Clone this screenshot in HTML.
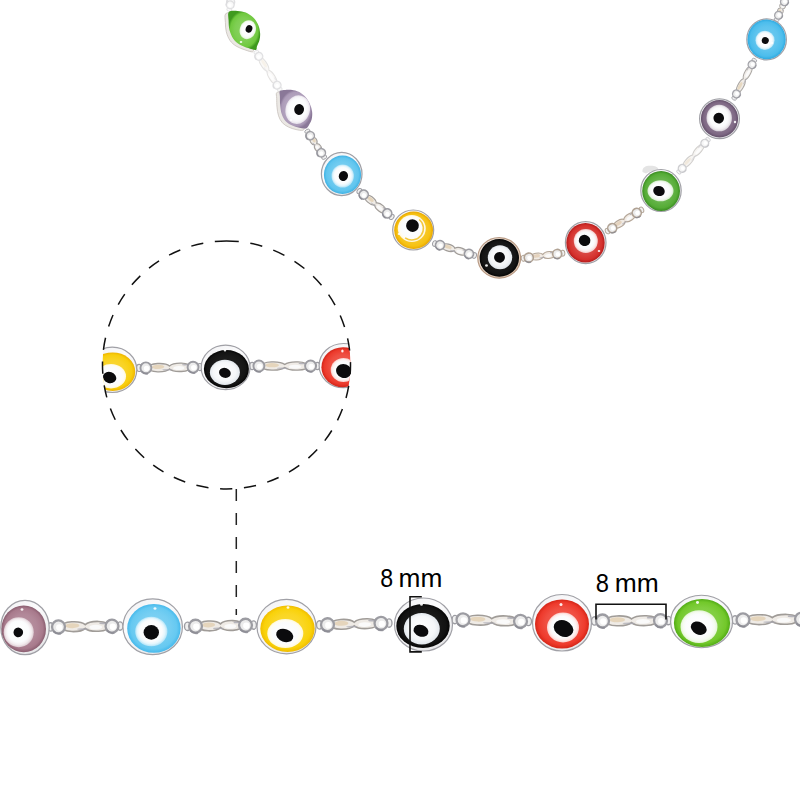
<!DOCTYPE html>
<html><head><meta charset="utf-8"><title>Evil eye chain</title>
<style>html,body{margin:0;padding:0;background:#fff;overflow:hidden;}svg{display:block;}</style>
</head><body><svg width="800" height="800" viewBox="0 0 800 800">
<defs>
<linearGradient id="gold" x1="0" y1="0" x2="1" y2="1"><stop offset="0" stop-color="#f4ece6"/><stop offset="1" stop-color="#d8bca4"/></linearGradient><linearGradient id="silver" x1="0" y1="0" x2="0.6" y2="1"><stop offset="0" stop-color="#f1f1f3"/><stop offset="0.45" stop-color="#fbfbfc"/><stop offset="1" stop-color="#e8e8ea"/></linearGradient>
<radialGradient id="iris" cx="50%" cy="50%" r="50%" fx="45%" fy="40%"><stop offset="0" stop-color="#ffffff"/><stop offset="0.75" stop-color="#f5f7f9"/><stop offset="1" stop-color="#e2e7ec"/></radialGradient>
<clipPath id="cc"><circle cx="226.5" cy="365" r="124"/></clipPath>
<radialGradient id="bg0" cx="50%" cy="50%" r="50%" fx="50%" fy="45%"><stop offset="0" stop-color="#8cd365"/><stop offset="0.6" stop-color="#7dce51"/><stop offset="0.86" stop-color="#6fc83e"/><stop offset="1" stop-color="#3f9a1e"/></radialGradient><radialGradient id="ig0" cx="50%" cy="50%" r="50%" fx="46%" fy="42%"><stop offset="0" stop-color="#ffffff"/><stop offset="0.7" stop-color="#fbfcfd"/><stop offset="0.86" stop-color="#f2faee"/><stop offset="1" stop-color="#dbf1cf"/></radialGradient><radialGradient id="bg1" cx="50%" cy="50%" r="50%" fx="50%" fy="45%"><stop offset="0" stop-color="#bdafc6"/><stop offset="0.6" stop-color="#b4a5bf"/><stop offset="0.86" stop-color="#ac9bb8"/><stop offset="1" stop-color="#8a7898"/></radialGradient><radialGradient id="ig1" cx="50%" cy="50%" r="50%" fx="46%" fy="42%"><stop offset="0" stop-color="#ffffff"/><stop offset="0.7" stop-color="#fbfcfd"/><stop offset="0.86" stop-color="#f6f4f8"/><stop offset="1" stop-color="#e6e1ea"/></radialGradient><radialGradient id="bg2" cx="50%" cy="50%" r="50%" fx="50%" fy="45%"><stop offset="0" stop-color="#80d1f1"/><stop offset="0.6" stop-color="#70cbf0"/><stop offset="0.86" stop-color="#60c5ee"/><stop offset="1" stop-color="#3fb2e4"/></radialGradient><radialGradient id="ig2" cx="50%" cy="50%" r="50%" fx="46%" fy="42%"><stop offset="0" stop-color="#ffffff"/><stop offset="0.7" stop-color="#fbfcfd"/><stop offset="0.86" stop-color="#e3f5fc"/><stop offset="1" stop-color="#b0e2f6"/></radialGradient><radialGradient id="bg3" cx="50%" cy="50%" r="50%" fx="50%" fy="45%"><stop offset="0" stop-color="#f8ce41"/><stop offset="0.6" stop-color="#f7c82a"/><stop offset="0.86" stop-color="#f6c212"/><stop offset="1" stop-color="#e8a600"/></radialGradient><radialGradient id="ig3" cx="50%" cy="50%" r="50%" fx="46%" fy="42%"><stop offset="0" stop-color="#ffffff"/><stop offset="0.7" stop-color="#fbfcfd"/><stop offset="0.86" stop-color="#fffcf3"/><stop offset="1" stop-color="#fef6db"/></radialGradient><radialGradient id="bg4" cx="50%" cy="50%" r="50%" fx="50%" fy="45%"><stop offset="0" stop-color="#202020"/><stop offset="0.6" stop-color="#1a1a1a"/><stop offset="0.86" stop-color="#141414"/><stop offset="1" stop-color="#050505"/></radialGradient><radialGradient id="bg5" cx="50%" cy="50%" r="50%" fx="50%" fy="45%"><stop offset="0" stop-color="#dd5956"/><stop offset="0.6" stop-color="#d94541"/><stop offset="0.86" stop-color="#d5302c"/><stop offset="1" stop-color="#b41c1c"/></radialGradient><radialGradient id="ig5" cx="50%" cy="50%" r="50%" fx="46%" fy="42%"><stop offset="0" stop-color="#ffffff"/><stop offset="0.7" stop-color="#fbfcfd"/><stop offset="0.86" stop-color="#fbeded"/><stop offset="1" stop-color="#f4cbca"/></radialGradient><radialGradient id="bg6" cx="50%" cy="50%" r="50%" fx="50%" fy="45%"><stop offset="0" stop-color="#77bd5e"/><stop offset="0.6" stop-color="#66b44a"/><stop offset="0.86" stop-color="#55ac36"/><stop offset="1" stop-color="#3a8c22"/></radialGradient><radialGradient id="ig6" cx="50%" cy="50%" r="50%" fx="46%" fy="42%"><stop offset="0" stop-color="#ffffff"/><stop offset="0.7" stop-color="#fbfcfd"/><stop offset="0.86" stop-color="#f0f8ed"/><stop offset="1" stop-color="#d4eacd"/></radialGradient><radialGradient id="bg7" cx="50%" cy="50%" r="50%" fx="50%" fy="45%"><stop offset="0" stop-color="#98869d"/><stop offset="0.6" stop-color="#8b7790"/><stop offset="0.86" stop-color="#7e6884"/><stop offset="1" stop-color="#63506a"/></radialGradient><radialGradient id="ig7" cx="50%" cy="50%" r="50%" fx="46%" fy="42%"><stop offset="0" stop-color="#ffffff"/><stop offset="0.7" stop-color="#fbfcfd"/><stop offset="0.86" stop-color="#f1eff2"/><stop offset="1" stop-color="#d8d2da"/></radialGradient><radialGradient id="bg8" cx="50%" cy="50%" r="50%" fx="50%" fy="45%"><stop offset="0" stop-color="#70caf0"/><stop offset="0.6" stop-color="#5ec4ee"/><stop offset="0.86" stop-color="#4cbdec"/><stop offset="1" stop-color="#2ea9e0"/></radialGradient><radialGradient id="ig8" cx="50%" cy="50%" r="50%" fx="46%" fy="42%"><stop offset="0" stop-color="#ffffff"/><stop offset="0.7" stop-color="#fbfcfd"/><stop offset="0.86" stop-color="#e3f5fc"/><stop offset="1" stop-color="#aee1f6"/></radialGradient><radialGradient id="bg9" cx="50%" cy="50%" r="50%" fx="50%" fy="45%"><stop offset="0" stop-color="#f9d83d"/><stop offset="0.6" stop-color="#f9d324"/><stop offset="0.86" stop-color="#f8ce0c"/><stop offset="1" stop-color="#eeb400"/></radialGradient><radialGradient id="ig9" cx="50%" cy="50%" r="50%" fx="46%" fy="42%"><stop offset="0" stop-color="#ffffff"/><stop offset="0.7" stop-color="#fbfcfd"/><stop offset="0.86" stop-color="#fffcf2"/><stop offset="1" stop-color="#fef8db"/></radialGradient><radialGradient id="bg10" cx="50%" cy="50%" r="50%" fx="50%" fy="45%"><stop offset="0" stop-color="#202020"/><stop offset="0.6" stop-color="#1a1a1a"/><stop offset="0.86" stop-color="#141414"/><stop offset="1" stop-color="#050505"/></radialGradient><radialGradient id="bg11" cx="50%" cy="50%" r="50%" fx="50%" fy="45%"><stop offset="0" stop-color="#f06156"/><stop offset="0.6" stop-color="#ee4e41"/><stop offset="0.86" stop-color="#ec3a2c"/><stop offset="1" stop-color="#d42418"/></radialGradient><radialGradient id="ig11" cx="50%" cy="50%" r="50%" fx="46%" fy="42%"><stop offset="0" stop-color="#ffffff"/><stop offset="0.7" stop-color="#fbfcfd"/><stop offset="0.86" stop-color="#fdeeed"/><stop offset="1" stop-color="#faceca"/></radialGradient><radialGradient id="bg12" cx="50%" cy="50%" r="50%" fx="50%" fy="45%"><stop offset="0" stop-color="#b995a3"/><stop offset="0.6" stop-color="#b18798"/><stop offset="0.86" stop-color="#a87a8c"/><stop offset="1" stop-color="#8a5e70"/></radialGradient><radialGradient id="ig12" cx="50%" cy="50%" r="50%" fx="46%" fy="42%"><stop offset="0" stop-color="#ffffff"/><stop offset="0.7" stop-color="#fbfcfd"/><stop offset="0.86" stop-color="#f3ecef"/><stop offset="1" stop-color="#dccad1"/></radialGradient><radialGradient id="bg13" cx="50%" cy="50%" r="50%" fx="50%" fy="45%"><stop offset="0" stop-color="#85d4f4"/><stop offset="0.6" stop-color="#75cef2"/><stop offset="0.86" stop-color="#66c9f1"/><stop offset="1" stop-color="#46b9ec"/></radialGradient><radialGradient id="ig13" cx="50%" cy="50%" r="50%" fx="46%" fy="42%"><stop offset="0" stop-color="#ffffff"/><stop offset="0.7" stop-color="#fbfcfd"/><stop offset="0.86" stop-color="#e4f6fd"/><stop offset="1" stop-color="#b2e4f8"/></radialGradient><radialGradient id="bg14" cx="50%" cy="50%" r="50%" fx="50%" fy="45%"><stop offset="0" stop-color="#fadb3b"/><stop offset="0.6" stop-color="#fad622"/><stop offset="0.86" stop-color="#f9d20a"/><stop offset="1" stop-color="#f0bc00"/></radialGradient><radialGradient id="ig14" cx="50%" cy="50%" r="50%" fx="46%" fy="42%"><stop offset="0" stop-color="#ffffff"/><stop offset="0.7" stop-color="#fbfcfd"/><stop offset="0.86" stop-color="#fffdf2"/><stop offset="1" stop-color="#fef8da"/></radialGradient><radialGradient id="bg15" cx="50%" cy="50%" r="50%" fx="50%" fy="45%"><stop offset="0" stop-color="#1e1e1e"/><stop offset="0.6" stop-color="#181818"/><stop offset="0.86" stop-color="#121212"/><stop offset="1" stop-color="#050505"/></radialGradient><radialGradient id="bg16" cx="50%" cy="50%" r="50%" fx="50%" fy="45%"><stop offset="0" stop-color="#f16156"/><stop offset="0.6" stop-color="#f04e41"/><stop offset="0.86" stop-color="#ee3a2c"/><stop offset="1" stop-color="#d62618"/></radialGradient><radialGradient id="ig16" cx="50%" cy="50%" r="50%" fx="46%" fy="42%"><stop offset="0" stop-color="#ffffff"/><stop offset="0.7" stop-color="#fbfcfd"/><stop offset="0.86" stop-color="#feeeed"/><stop offset="1" stop-color="#fbceca"/></radialGradient><radialGradient id="bg17" cx="50%" cy="50%" r="50%" fx="50%" fy="45%"><stop offset="0" stop-color="#8ed355"/><stop offset="0.6" stop-color="#80ce3f"/><stop offset="0.86" stop-color="#72c82a"/><stop offset="1" stop-color="#52ac16"/></radialGradient><radialGradient id="ig17" cx="50%" cy="50%" r="50%" fx="46%" fy="42%"><stop offset="0" stop-color="#ffffff"/><stop offset="0.7" stop-color="#fbfcfd"/><stop offset="0.86" stop-color="#f5fbf0"/><stop offset="1" stop-color="#e3f4d4"/></radialGradient>
</defs>
<rect width="800" height="800" fill="#fff"/>
<g><g transform="translate(232.00,-4.00) rotate(101.31)" opacity="0.3"><ellipse cx="1.50" cy="0" rx="1.80" ry="2.52" fill="#f0f0f0" stroke="#9c9ca2" stroke-width="0.83"/><ellipse cx="13.80" cy="0" rx="1.80" ry="2.52" fill="#f0f0f0" stroke="#9c9ca2" stroke-width="0.83"/><circle cx="6.30" cy="0" r="3.87" fill="#ececec" stroke="#9c9ca2" stroke-width="1.38"/><circle cx="6.78" cy="0.36" r="1.92" fill="#ffffff"/><path d="M3.11,2.51 A4.56,4.56 0 0 0 7.67,4.10" fill="none" stroke="#8a8a92" stroke-width="1.10" opacity="0.8"/><circle cx="9.00" cy="0" r="3.87" fill="#ececec" stroke="#9c9ca2" stroke-width="1.38"/><circle cx="9.48" cy="0.36" r="1.92" fill="#ffffff"/><path d="M5.81,2.51 A4.56,4.56 0 0 0 10.37,4.10" fill="none" stroke="#8a8a92" stroke-width="1.10" opacity="0.8"/></g><g transform="translate(255.50,51.00) rotate(57.67)" opacity="0.3"><ellipse cx="1.50" cy="0" rx="1.80" ry="2.52" fill="#f0f0f0" stroke="#9c9ca2" stroke-width="0.83"/><ellipse cx="45.25" cy="0" rx="1.80" ry="2.52" fill="#f0f0f0" stroke="#9c9ca2" stroke-width="0.83"/><path d="M8.35,0 C8.35,-3.72 20.37,-3.72 23.37,-1.08 C26.38,-3.72 38.39,-3.72 38.39,0 C38.39,3.72 26.38,3.72 23.37,1.08 C20.37,3.72 8.35,3.72 8.35,0 Z" fill="#efebe6" stroke="#a09c98" stroke-width="0.97"/><ellipse cx="15.11" cy="-0.60" rx="4.51" ry="1.49" fill="#e2d0b2" opacity="0.8"/><ellipse cx="30.13" cy="0.48" rx="4.13" ry="1.41" fill="#fafafa"/><ellipse cx="21.87" cy="1.56" rx="3.76" ry="0.52" fill="#a8a8b2" opacity="0.7"/><ellipse cx="34.64" cy="-1.80" rx="2.25" ry="0.56" fill="#9c9ca8" opacity="0.7"/><circle cx="6.30" cy="0" r="3.87" fill="#ececec" stroke="#9c9ca2" stroke-width="1.38"/><circle cx="6.78" cy="0.36" r="1.92" fill="#ffffff"/><path d="M3.11,2.51 A4.56,4.56 0 0 0 7.67,4.10" fill="none" stroke="#8a8a92" stroke-width="1.10" opacity="0.8"/><circle cx="40.45" cy="0" r="3.87" fill="#ececec" stroke="#9c9ca2" stroke-width="1.38"/><circle cx="40.93" cy="0.36" r="1.92" fill="#ffffff"/><path d="M37.25,2.51 A4.56,4.56 0 0 0 41.81,4.10" fill="none" stroke="#8a8a92" stroke-width="1.10" opacity="0.8"/></g><g transform="translate(306.50,130.00) rotate(57.01)" opacity="0.95"><ellipse cx="1.62" cy="0" rx="1.95" ry="2.73" fill="#f0f0f0" stroke="#9c9ca2" stroke-width="0.90"/><ellipse cx="32.35" cy="0" rx="1.95" ry="2.73" fill="#f0f0f0" stroke="#9c9ca2" stroke-width="0.90"/><path d="M9.05,0 C9.05,-4.03 15.40,-4.03 16.99,-1.17 C18.58,-4.03 24.93,-4.03 24.93,0 C24.93,4.03 18.58,4.03 16.99,1.17 C15.40,4.03 9.05,4.03 9.05,0 Z" fill="#efebe6" stroke="#a09c98" stroke-width="1.05"/><ellipse cx="12.62" cy="-0.65" rx="2.38" ry="1.61" fill="#e2d0b2" opacity="0.8"/><ellipse cx="20.56" cy="0.52" rx="2.18" ry="1.53" fill="#fafafa"/><ellipse cx="16.19" cy="1.69" rx="1.99" ry="0.56" fill="#a8a8b2" opacity="0.7"/><ellipse cx="22.94" cy="-1.95" rx="1.19" ry="0.60" fill="#9c9ca8" opacity="0.7"/><circle cx="6.83" cy="0" r="4.19" fill="#ececec" stroke="#9c9ca2" stroke-width="1.49"/><circle cx="7.35" cy="0.39" r="2.07" fill="#ffffff"/><path d="M3.37,2.72 A4.94,4.94 0 0 0 8.31,4.45" fill="none" stroke="#8a8a92" stroke-width="1.20" opacity="0.8"/><circle cx="27.15" cy="0" r="4.19" fill="#ececec" stroke="#9c9ca2" stroke-width="1.49"/><circle cx="27.67" cy="0.39" r="2.07" fill="#ffffff"/><path d="M23.69,2.72 A4.94,4.94 0 0 0 28.63,4.45" fill="none" stroke="#8a8a92" stroke-width="1.20" opacity="0.8"/></g><g transform="translate(358.00,190.00) rotate(38.66)" opacity="1"><ellipse cx="1.75" cy="0" rx="2.10" ry="2.94" fill="#f0f0f0" stroke="#9c9ca2" stroke-width="0.97"/><ellipse cx="43.07" cy="0" rx="2.10" ry="2.94" fill="#f0f0f0" stroke="#9c9ca2" stroke-width="0.97"/><path d="M9.74,0 C9.74,-4.34 19.88,-4.34 22.41,-1.26 C24.94,-4.34 35.08,-4.34 35.08,0 C35.08,4.34 24.94,4.34 22.41,1.26 C19.88,4.34 9.74,4.34 9.74,0 Z" fill="#efebe6" stroke="#a09c98" stroke-width="1.13"/><ellipse cx="15.44" cy="-0.70" rx="3.80" ry="1.74" fill="#e2d0b2" opacity="0.8"/><ellipse cx="28.11" cy="0.56" rx="3.48" ry="1.65" fill="#fafafa"/><ellipse cx="21.14" cy="1.82" rx="3.17" ry="0.61" fill="#a8a8b2" opacity="0.7"/><ellipse cx="31.91" cy="-2.10" rx="1.90" ry="0.65" fill="#9c9ca8" opacity="0.7"/><circle cx="7.35" cy="0" r="4.51" fill="#ececec" stroke="#9c9ca2" stroke-width="1.61"/><circle cx="7.91" cy="0.42" r="2.23" fill="#ffffff"/><path d="M3.63,2.93 A5.32,5.32 0 0 0 8.95,4.79" fill="none" stroke="#8a8a92" stroke-width="1.29" opacity="0.8"/><circle cx="37.47" cy="0" r="4.51" fill="#ececec" stroke="#9c9ca2" stroke-width="1.61"/><circle cx="38.03" cy="0.42" r="2.23" fill="#ffffff"/><path d="M33.75,2.93 A5.32,5.32 0 0 0 39.07,4.79" fill="none" stroke="#8a8a92" stroke-width="1.29" opacity="0.8"/></g><g transform="translate(433.00,243.00) rotate(16.82)" opacity="1"><ellipse cx="1.75" cy="0" rx="2.10" ry="2.94" fill="#f0f0f0" stroke="#9c9ca2" stroke-width="0.97"/><ellipse cx="43.17" cy="0" rx="2.10" ry="2.94" fill="#f0f0f0" stroke="#9c9ca2" stroke-width="0.97"/><path d="M9.74,0 C9.74,-4.34 19.92,-4.34 22.46,-1.26 C25.00,-4.34 35.18,-4.34 35.18,0 C35.18,4.34 25.00,4.34 22.46,1.26 C19.92,4.34 9.74,4.34 9.74,0 Z" fill="#efebe6" stroke="#a09c98" stroke-width="1.13"/><ellipse cx="15.47" cy="-0.70" rx="3.82" ry="1.74" fill="#e2d0b2" opacity="0.8"/><ellipse cx="28.18" cy="0.56" rx="3.50" ry="1.65" fill="#fafafa"/><ellipse cx="21.19" cy="1.82" rx="3.18" ry="0.61" fill="#a8a8b2" opacity="0.7"/><ellipse cx="32.00" cy="-2.10" rx="1.91" ry="0.65" fill="#9c9ca8" opacity="0.7"/><circle cx="7.35" cy="0" r="4.51" fill="#ececec" stroke="#9c9ca2" stroke-width="1.61"/><circle cx="7.91" cy="0.42" r="2.23" fill="#ffffff"/><path d="M3.63,2.93 A5.32,5.32 0 0 0 8.95,4.79" fill="none" stroke="#8a8a92" stroke-width="1.29" opacity="0.8"/><circle cx="37.57" cy="0" r="4.51" fill="#ececec" stroke="#9c9ca2" stroke-width="1.61"/><circle cx="38.13" cy="0.42" r="2.23" fill="#ffffff"/><path d="M33.85,2.93 A5.32,5.32 0 0 0 39.17,4.79" fill="none" stroke="#8a8a92" stroke-width="1.29" opacity="0.8"/></g><g transform="translate(521.50,258.50) rotate(-7.29)" opacity="1"><ellipse cx="1.75" cy="0" rx="2.10" ry="2.94" fill="#f0f0f0" stroke="#b0a294" stroke-width="0.97"/><ellipse cx="41.60" cy="0" rx="2.10" ry="2.94" fill="#f0f0f0" stroke="#b0a294" stroke-width="0.97"/><path d="M9.74,0 C9.74,-4.34 19.29,-4.34 21.68,-1.26 C24.06,-4.34 33.61,-4.34 33.61,0 C33.61,4.34 24.06,4.34 21.68,1.26 C19.29,4.34 9.74,4.34 9.74,0 Z" fill="#f1ebe4" stroke="#b4a698" stroke-width="1.13"/><ellipse cx="15.11" cy="-0.70" rx="3.58" ry="1.74" fill="#e2cdb4" opacity="0.8"/><ellipse cx="27.04" cy="0.56" rx="3.28" ry="1.65" fill="#fafafa"/><ellipse cx="20.48" cy="1.82" rx="2.98" ry="0.61" fill="#a8a8b2" opacity="0.7"/><ellipse cx="30.62" cy="-2.10" rx="1.79" ry="0.65" fill="#9c9ca8" opacity="0.7"/><circle cx="7.35" cy="0" r="4.51" fill="#ececec" stroke="#b0a294" stroke-width="1.61"/><circle cx="7.91" cy="0.42" r="2.23" fill="#ffffff"/><path d="M3.63,2.93 A5.32,5.32 0 0 0 8.95,4.79" fill="none" stroke="#8a8a92" stroke-width="1.29" opacity="0.8"/><circle cx="36.00" cy="0" r="4.51" fill="#ececec" stroke="#b0a294" stroke-width="1.61"/><circle cx="36.56" cy="0.42" r="2.23" fill="#ffffff"/><path d="M32.28,2.93 A5.32,5.32 0 0 0 37.60,4.79" fill="none" stroke="#8a8a92" stroke-width="1.29" opacity="0.8"/></g><g transform="translate(606.00,232.00) rotate(-31.87)" opacity="1"><ellipse cx="1.75" cy="0" rx="2.10" ry="2.94" fill="#f0f0f0" stroke="#b0a294" stroke-width="0.97"/><ellipse cx="41.82" cy="0" rx="2.10" ry="2.94" fill="#f0f0f0" stroke="#b0a294" stroke-width="0.97"/><path d="M9.74,0 C9.74,-4.34 19.38,-4.34 21.78,-1.26 C24.19,-4.34 33.82,-4.34 33.82,0 C33.82,4.34 24.19,4.34 21.78,1.26 C19.38,4.34 9.74,4.34 9.74,0 Z" fill="#f1ebe4" stroke="#b4a698" stroke-width="1.13"/><ellipse cx="15.16" cy="-0.70" rx="3.61" ry="1.74" fill="#e2cdb4" opacity="0.8"/><ellipse cx="27.20" cy="0.56" rx="3.31" ry="1.65" fill="#fafafa"/><ellipse cx="20.58" cy="1.82" rx="3.01" ry="0.61" fill="#a8a8b2" opacity="0.7"/><ellipse cx="30.81" cy="-2.10" rx="1.81" ry="0.65" fill="#9c9ca8" opacity="0.7"/><circle cx="7.35" cy="0" r="4.51" fill="#ececec" stroke="#b0a294" stroke-width="1.61"/><circle cx="7.91" cy="0.42" r="2.23" fill="#ffffff"/><path d="M3.63,2.93 A5.32,5.32 0 0 0 8.95,4.79" fill="none" stroke="#8a8a92" stroke-width="1.29" opacity="0.8"/><circle cx="36.22" cy="0" r="4.51" fill="#ececec" stroke="#b0a294" stroke-width="1.61"/><circle cx="36.78" cy="0.42" r="2.23" fill="#ffffff"/><path d="M32.49,2.93 A5.32,5.32 0 0 0 37.81,4.79" fill="none" stroke="#8a8a92" stroke-width="1.29" opacity="0.8"/></g><g transform="translate(678.00,173.00) rotate(-48.06)" opacity="0.5"><ellipse cx="1.50" cy="0" rx="1.80" ry="2.52" fill="#f0f0f0" stroke="#9c9ca2" stroke-width="0.83"/><ellipse cx="44.88" cy="0" rx="1.80" ry="2.52" fill="#f0f0f0" stroke="#9c9ca2" stroke-width="0.83"/><path d="M8.35,0 C8.35,-3.72 20.22,-3.72 23.19,-1.08 C26.16,-3.72 38.03,-3.72 38.03,0 C38.03,3.72 26.16,3.72 23.19,1.08 C20.22,3.72 8.35,3.72 8.35,0 Z" fill="#efebe6" stroke="#a09c98" stroke-width="0.97"/><ellipse cx="15.03" cy="-0.60" rx="4.45" ry="1.49" fill="#e2d0b2" opacity="0.8"/><ellipse cx="29.87" cy="0.48" rx="4.08" ry="1.41" fill="#fafafa"/><ellipse cx="21.71" cy="1.56" rx="3.71" ry="0.52" fill="#a8a8b2" opacity="0.7"/><ellipse cx="34.32" cy="-1.80" rx="2.23" ry="0.56" fill="#9c9ca8" opacity="0.7"/><circle cx="6.30" cy="0" r="3.87" fill="#ececec" stroke="#9c9ca2" stroke-width="1.38"/><circle cx="6.78" cy="0.36" r="1.92" fill="#ffffff"/><path d="M3.11,2.51 A4.56,4.56 0 0 0 7.67,4.10" fill="none" stroke="#8a8a92" stroke-width="1.10" opacity="0.8"/><circle cx="40.08" cy="0" r="3.87" fill="#ececec" stroke="#9c9ca2" stroke-width="1.38"/><circle cx="40.56" cy="0.36" r="1.92" fill="#ffffff"/><path d="M36.89,2.51 A4.56,4.56 0 0 0 41.45,4.10" fill="none" stroke="#8a8a92" stroke-width="1.10" opacity="0.8"/></g><g transform="translate(733.50,99.50) rotate(-62.04)" opacity="0.9"><ellipse cx="1.50" cy="0" rx="1.80" ry="2.52" fill="#f0f0f0" stroke="#9c9ca2" stroke-width="0.83"/><ellipse cx="44.35" cy="0" rx="1.80" ry="2.52" fill="#f0f0f0" stroke="#9c9ca2" stroke-width="0.83"/><path d="M8.35,0 C8.35,-3.72 20.01,-3.72 22.93,-1.08 C25.84,-3.72 37.50,-3.72 37.50,0 C37.50,3.72 25.84,3.72 22.93,1.08 C20.01,3.72 8.35,3.72 8.35,0 Z" fill="#efebe6" stroke="#a09c98" stroke-width="0.97"/><ellipse cx="14.91" cy="-0.60" rx="4.37" ry="1.49" fill="#e2d0b2" opacity="0.8"/><ellipse cx="29.49" cy="0.48" rx="4.01" ry="1.41" fill="#fafafa"/><ellipse cx="21.47" cy="1.56" rx="3.64" ry="0.52" fill="#a8a8b2" opacity="0.7"/><ellipse cx="33.86" cy="-1.80" rx="2.19" ry="0.56" fill="#9c9ca8" opacity="0.7"/><circle cx="6.30" cy="0" r="3.87" fill="#ececec" stroke="#9c9ca2" stroke-width="1.38"/><circle cx="6.78" cy="0.36" r="1.92" fill="#ffffff"/><path d="M3.11,2.51 A4.56,4.56 0 0 0 7.67,4.10" fill="none" stroke="#8a8a92" stroke-width="1.10" opacity="0.8"/><circle cx="39.55" cy="0" r="3.87" fill="#ececec" stroke="#9c9ca2" stroke-width="1.38"/><circle cx="40.03" cy="0.36" r="1.92" fill="#ffffff"/><path d="M36.36,2.51 A4.56,4.56 0 0 0 40.92,4.10" fill="none" stroke="#8a8a92" stroke-width="1.10" opacity="0.8"/></g><g transform="translate(776.00,21.00) rotate(-66.25)" opacity="0.9"><ellipse cx="1.50" cy="0" rx="1.80" ry="2.52" fill="#f0f0f0" stroke="#9c9ca2" stroke-width="0.83"/><ellipse cx="25.81" cy="0" rx="1.80" ry="2.52" fill="#f0f0f0" stroke="#9c9ca2" stroke-width="0.83"/><path d="M8.35,0 C8.35,-3.72 12.60,-3.72 13.66,-1.08 C14.72,-3.72 18.96,-3.72 18.96,0 C18.96,3.72 14.72,3.72 13.66,1.08 C12.60,3.72 8.35,3.72 8.35,0 Z" fill="#efebe6" stroke="#a09c98" stroke-width="0.97"/><ellipse cx="10.74" cy="-0.60" rx="1.59" ry="1.49" fill="#e2d0b2" opacity="0.8"/><ellipse cx="16.04" cy="0.48" rx="1.46" ry="1.41" fill="#fafafa"/><ellipse cx="13.13" cy="1.56" rx="1.33" ry="0.52" fill="#a8a8b2" opacity="0.7"/><ellipse cx="17.63" cy="-1.80" rx="0.80" ry="0.56" fill="#9c9ca8" opacity="0.7"/><circle cx="6.30" cy="0" r="3.87" fill="#ececec" stroke="#9c9ca2" stroke-width="1.38"/><circle cx="6.78" cy="0.36" r="1.92" fill="#ffffff"/><path d="M3.11,2.51 A4.56,4.56 0 0 0 7.67,4.10" fill="none" stroke="#8a8a92" stroke-width="1.10" opacity="0.8"/><circle cx="21.01" cy="0" r="3.87" fill="#ececec" stroke="#9c9ca2" stroke-width="1.38"/><circle cx="21.49" cy="0.36" r="1.92" fill="#ffffff"/><path d="M17.82,2.51 A4.56,4.56 0 0 0 22.38,4.10" fill="none" stroke="#8a8a92" stroke-width="1.10" opacity="0.8"/></g><path d="M642.5,172 C642,167 646,165.5 651,165.8 C655,166 658,167 658.5,169.5 C655,170 650,171 646,173.5 Z" fill="#e4e4e4"/><path d="M225.70,13.70 C227.20,12.08 231.59,12.60 234.40,12.70 C237.21,12.80 239.94,13.20 242.55,14.30 C245.16,15.40 247.97,17.22 250.05,19.30 C252.13,21.38 253.91,24.20 255.05,26.80 C256.19,29.40 256.69,32.40 256.90,34.90 C257.11,37.40 256.82,39.61 256.30,41.80 C255.78,43.99 254.43,46.38 253.80,48.05 C253.18,49.72 254.01,51.49 252.55,51.80 C251.09,52.11 247.76,50.83 245.05,49.90 C242.34,48.97 238.80,47.76 236.30,46.20 C233.80,44.64 231.72,42.95 230.05,40.55 C228.38,38.15 227.08,34.83 226.30,31.80 C225.53,28.78 225.50,25.42 225.40,22.40 C225.30,19.38 224.20,15.32 225.70,13.70 Z" fill="#ebe8e4" stroke="#c8c2bc" stroke-width="0.8"/><path d="M228.90,11.90 C230.40,10.28 234.79,10.80 237.60,10.90 C240.41,11.00 243.14,11.40 245.75,12.50 C248.36,13.60 251.17,15.42 253.25,17.50 C255.33,19.58 257.11,22.40 258.25,25.00 C259.39,27.60 259.89,30.60 260.10,33.10 C260.31,35.60 260.02,37.81 259.50,40.00 C258.98,42.19 257.62,44.58 257.00,46.25 C256.38,47.92 257.21,49.69 255.75,50.00 C254.29,50.31 250.96,49.03 248.25,48.10 C245.54,47.17 242.00,45.96 239.50,44.40 C237.00,42.84 234.92,41.15 233.25,38.75 C231.58,36.35 230.28,33.02 229.50,30.00 C228.72,26.98 228.70,23.62 228.60,20.60 C228.50,17.58 227.40,13.52 228.90,11.90 Z" fill="url(#bg0)"/><ellipse cx="247.8" cy="29.7" rx="8" ry="9.7" fill="url(#ig0)" transform="rotate(20 247.8 29.7)"/><ellipse cx="249" cy="28.9" rx="3.3" ry="3.9" fill="#0b0b0d" transform="rotate(20 249 28.9)"/><ellipse cx="241" cy="42" rx="1.3" ry="1.1" fill="#fff" opacity="0.9"/><path d="M276.70,92.70 C277.63,91.60 280.02,91.81 282.30,91.70 C284.58,91.59 288.11,91.68 290.40,92.05 C292.69,92.42 294.07,92.76 296.05,93.90 C298.03,95.04 300.53,96.92 302.30,98.90 C304.07,100.88 305.60,103.40 306.70,105.80 C307.80,108.20 308.59,110.80 308.90,113.30 C309.21,115.80 309.03,118.62 308.55,120.80 C308.07,122.98 306.99,124.83 306.05,126.40 C305.11,127.97 304.57,129.68 302.90,130.20 C301.23,130.73 298.44,130.08 296.05,129.55 C293.66,129.03 290.84,128.19 288.55,127.05 C286.26,125.91 283.97,124.58 282.30,122.70 C280.63,120.83 279.43,118.41 278.55,115.80 C277.67,113.19 277.31,109.97 277.00,107.05 C276.69,104.13 276.75,100.69 276.70,98.30 C276.65,95.91 275.77,93.80 276.70,92.70 Z" fill="#ebe8e4" stroke="#c8c2bc" stroke-width="0.8"/><path d="M279.90,90.90 C280.83,89.80 283.22,90.01 285.50,89.90 C287.78,89.79 291.31,89.88 293.60,90.25 C295.89,90.62 297.27,90.96 299.25,92.10 C301.23,93.24 303.73,95.12 305.50,97.10 C307.27,99.08 308.80,101.60 309.90,104.00 C311.00,106.40 311.79,109.00 312.10,111.50 C312.41,114.00 312.23,116.82 311.75,119.00 C311.27,121.18 310.19,123.03 309.25,124.60 C308.31,126.17 307.77,127.88 306.10,128.40 C304.43,128.93 301.64,128.28 299.25,127.75 C296.86,127.22 294.04,126.39 291.75,125.25 C289.46,124.11 287.17,122.78 285.50,120.90 C283.83,119.03 282.63,116.61 281.75,114.00 C280.87,111.39 280.51,108.17 280.20,105.25 C279.89,102.33 279.95,98.89 279.90,96.50 C279.85,94.11 278.97,92.00 279.90,90.90 Z" fill="url(#bg1)"/><ellipse cx="297.7" cy="109.6" rx="12.2" ry="14.4" fill="url(#ig1)" transform="rotate(15 297.7 109.6)"/><ellipse cx="299.1" cy="109.5" rx="4.9" ry="5.5" fill="#0b0b0d" transform="rotate(15 299.1 109.5)"/><ellipse cx="291" cy="120" rx="1.2" ry="0.9" fill="#fff" opacity="0.9"/><ellipse cx="341.7" cy="174" rx="20.3" ry="21.6" fill="url(#silver)" stroke="#a0a0a6" stroke-width="1.2"/><ellipse cx="342.5" cy="174.8" rx="18.6" ry="19.2" fill="url(#bg2)"/><ellipse cx="342.7" cy="176" rx="11.2" ry="11.5" fill="url(#ig2)"/><ellipse cx="343.4" cy="176" rx="4.6" ry="5" fill="#0b0b0d" transform="rotate(20 343.4 176)"/><ellipse cx="413.2" cy="230" rx="20.5" ry="20" fill="url(#silver)" stroke="#a0a0a6" stroke-width="1.2"/><ellipse cx="413.6" cy="230.3" rx="19.4" ry="18.75" fill="url(#bg3)"/><ellipse cx="411.8" cy="228.5" rx="14" ry="13.5" fill="url(#ig3)"/><ellipse cx="412.5" cy="225.6" rx="6.4" ry="6.3" fill="#0b0b0d" transform="rotate(20 412.5 225.6)"/><ellipse cx="399" cy="234" rx="1.3" ry="1.1" fill="#fff" opacity="0.9"/><ellipse cx="499.2" cy="257.9" rx="21.4" ry="20.2" fill="url(#gold)" stroke="#b89a84" stroke-width="1.2"/><ellipse cx="499.3" cy="257.9" rx="19.7" ry="18.9" fill="url(#bg4)"/><ellipse cx="500" cy="257.2" rx="12.2" ry="12" fill="url(#iris)"/><ellipse cx="499.5" cy="257.3" rx="5.4" ry="5.4" fill="#0b0b0d" transform="rotate(20 499.5 257.3)"/><ellipse cx="486.5" cy="265.5" rx="1.4" ry="1.2" fill="#fff" opacity="0.9"/><ellipse cx="585.7" cy="242.6" rx="20.3" ry="21" fill="url(#silver)" stroke="#a0a0a6" stroke-width="1.2"/><ellipse cx="585.5" cy="242.8" rx="19.2" ry="19.8" fill="url(#bg5)"/><ellipse cx="585.8" cy="241" rx="12" ry="11.9" fill="url(#ig5)"/><ellipse cx="584.6" cy="240.4" rx="5.8" ry="5.6" fill="#0b0b0d" transform="rotate(20 584.6 240.4)"/><ellipse cx="599" cy="251" rx="1.3" ry="1.1" fill="#fff" opacity="0.9"/><ellipse cx="661" cy="190.5" rx="20.2" ry="21" fill="url(#silver)" stroke="#a0a0a6" stroke-width="1.2"/><ellipse cx="661.1" cy="191" rx="18.9" ry="19.9" fill="url(#bg6)"/><ellipse cx="660.5" cy="190.8" rx="13" ry="10.5" fill="url(#ig6)"/><ellipse cx="659" cy="191" rx="5.85" ry="5" fill="#0b0b0d" transform="rotate(20 659 191)"/><ellipse cx="719.5" cy="118.75" rx="19.9" ry="19.9" fill="url(#silver)" stroke="#a0a0a6" stroke-width="1.2"/><ellipse cx="719.5" cy="118.75" rx="18.6" ry="18.75" fill="url(#bg7)"/><ellipse cx="719.2" cy="118" rx="12.7" ry="13.3" fill="url(#ig7)"/><ellipse cx="718.7" cy="118.1" rx="5.3" ry="5.3" fill="#0b0b0d" transform="rotate(20 718.7 118.1)"/><ellipse cx="735" cy="122" rx="1.2" ry="1.2" fill="#fff" opacity="0.9"/><ellipse cx="766.6" cy="39.4" rx="19.8" ry="20.5" fill="url(#silver)" stroke="#a0a0a6" stroke-width="1.2"/><ellipse cx="766.6" cy="39.4" rx="19.1" ry="19.9" fill="url(#bg8)"/><ellipse cx="765" cy="40.3" rx="9.6" ry="9.6" fill="url(#ig8)"/><ellipse cx="765.3" cy="40.5" rx="3.5" ry="3.5" fill="#0b0b0d" transform="rotate(20 765.3 40.5)"/><ellipse cx="772" cy="43" rx="1.2" ry="1" fill="#fff" opacity="0.9"/><path d="M419.25,219.50 A11.6,11.6 0 0 1 405.14,237.89" fill="none" stroke="#f0bc10" stroke-width="1.5" opacity="0.8"/></g>
<g clip-path="url(#cc)"><g transform="translate(60.00,368.00) rotate(0.00)" opacity="1"><ellipse cx="2.12" cy="0" rx="2.55" ry="3.57" fill="#f0f0f0" stroke="#9c9ca2" stroke-width="1.17"/><ellipse cx="29.88" cy="0" rx="2.55" ry="3.57" fill="#f0f0f0" stroke="#9c9ca2" stroke-width="1.17"/><path d="M11.83,0 C11.83,-5.27 15.17,-5.27 16.00,-1.53 C16.83,-5.27 20.17,-5.27 20.17,0 C20.17,5.27 16.83,5.27 16.00,1.53 C15.17,5.27 11.83,5.27 11.83,0 Z" fill="#efebe6" stroke="#a09c98" stroke-width="1.37"/><ellipse cx="13.71" cy="-0.85" rx="1.25" ry="2.11" fill="#e2d0b2" opacity="0.8"/><ellipse cx="17.88" cy="0.68" rx="1.15" ry="2.00" fill="#fafafa"/><ellipse cx="15.58" cy="2.21" rx="1.04" ry="0.74" fill="#a8a8b2" opacity="0.7"/><ellipse cx="19.13" cy="-2.55" rx="0.63" ry="0.79" fill="#9c9ca8" opacity="0.7"/><circle cx="8.92" cy="0" r="5.48" fill="#ececec" stroke="#9c9ca2" stroke-width="1.95"/><circle cx="9.60" cy="0.51" r="2.71" fill="#ffffff"/><path d="M4.40,3.55 A6.46,6.46 0 0 0 10.86,5.81" fill="none" stroke="#8a8a92" stroke-width="1.56" opacity="0.8"/><circle cx="23.08" cy="0" r="5.48" fill="#ececec" stroke="#9c9ca2" stroke-width="1.95"/><circle cx="23.76" cy="0.51" r="2.71" fill="#ffffff"/><path d="M18.55,3.55 A6.46,6.46 0 0 0 25.01,5.81" fill="none" stroke="#8a8a92" stroke-width="1.56" opacity="0.8"/></g><g transform="translate(137.00,368.00) rotate(-0.88)" opacity="1"><ellipse cx="2.12" cy="0" rx="2.55" ry="3.57" fill="#f0f0f0" stroke="#9c9ca2" stroke-width="1.17"/><ellipse cx="62.88" cy="0" rx="2.55" ry="3.57" fill="#f0f0f0" stroke="#9c9ca2" stroke-width="1.17"/><path d="M11.83,0 C11.83,-5.27 28.37,-5.27 32.50,-1.53 C36.64,-5.27 53.18,-5.27 53.18,0 C53.18,5.27 36.64,5.27 32.50,1.53 C28.37,5.27 11.83,5.27 11.83,0 Z" fill="#efebe6" stroke="#a09c98" stroke-width="1.37"/><ellipse cx="21.13" cy="-0.85" rx="6.20" ry="2.11" fill="#e2d0b2" opacity="0.8"/><ellipse cx="41.81" cy="0.68" rx="5.68" ry="2.00" fill="#fafafa"/><ellipse cx="30.44" cy="2.21" rx="5.17" ry="0.74" fill="#a8a8b2" opacity="0.7"/><ellipse cx="48.01" cy="-2.55" rx="3.10" ry="0.79" fill="#9c9ca8" opacity="0.7"/><circle cx="8.92" cy="0" r="5.48" fill="#ececec" stroke="#9c9ca2" stroke-width="1.95"/><circle cx="9.60" cy="0.51" r="2.71" fill="#ffffff"/><path d="M4.40,3.55 A6.46,6.46 0 0 0 10.86,5.81" fill="none" stroke="#8a8a92" stroke-width="1.56" opacity="0.8"/><circle cx="56.08" cy="0" r="5.48" fill="#ececec" stroke="#9c9ca2" stroke-width="1.95"/><circle cx="56.76" cy="0.51" r="2.71" fill="#ffffff"/><path d="M51.56,3.55 A6.46,6.46 0 0 0 58.02,5.81" fill="none" stroke="#8a8a92" stroke-width="1.56" opacity="0.8"/></g><g transform="translate(250.00,366.00) rotate(0.00)" opacity="1"><ellipse cx="2.12" cy="0" rx="2.55" ry="3.57" fill="#f0f0f0" stroke="#9c9ca2" stroke-width="1.17"/><ellipse cx="67.38" cy="0" rx="2.55" ry="3.57" fill="#f0f0f0" stroke="#9c9ca2" stroke-width="1.17"/><path d="M11.83,0 C11.83,-5.27 30.17,-5.27 34.75,-1.53 C39.33,-5.27 57.67,-5.27 57.67,0 C57.67,5.27 39.33,5.27 34.75,1.53 C30.17,5.27 11.83,5.27 11.83,0 Z" fill="#efebe6" stroke="#a09c98" stroke-width="1.37"/><ellipse cx="22.15" cy="-0.85" rx="6.88" ry="2.11" fill="#e2d0b2" opacity="0.8"/><ellipse cx="45.06" cy="0.68" rx="6.30" ry="2.00" fill="#fafafa"/><ellipse cx="32.46" cy="2.21" rx="5.73" ry="0.74" fill="#a8a8b2" opacity="0.7"/><ellipse cx="51.94" cy="-2.55" rx="3.44" ry="0.79" fill="#9c9ca8" opacity="0.7"/><circle cx="8.92" cy="0" r="5.48" fill="#ececec" stroke="#9c9ca2" stroke-width="1.95"/><circle cx="9.60" cy="0.51" r="2.71" fill="#ffffff"/><path d="M4.40,3.55 A6.46,6.46 0 0 0 10.86,5.81" fill="none" stroke="#8a8a92" stroke-width="1.56" opacity="0.8"/><circle cx="60.58" cy="0" r="5.48" fill="#ececec" stroke="#9c9ca2" stroke-width="1.95"/><circle cx="61.26" cy="0.51" r="2.71" fill="#ffffff"/><path d="M56.05,3.55 A6.46,6.46 0 0 0 62.51,5.81" fill="none" stroke="#8a8a92" stroke-width="1.56" opacity="0.8"/></g><ellipse cx="112.3" cy="369.8" rx="24.5" ry="22.7" fill="url(#silver)" stroke="#a0a0a6" stroke-width="1.2"/><ellipse cx="112.6" cy="371.7" rx="22.6" ry="19.3" fill="url(#bg9)"/><ellipse cx="111" cy="376.2" rx="15" ry="12.2" fill="url(#ig9)"/><ellipse cx="109.6" cy="377.5" rx="6.8" ry="5.6" fill="#0b0b0d" transform="rotate(20 109.6 377.5)"/><ellipse cx="225.6" cy="367.4" rx="24.4" ry="22.3" fill="url(#silver)" stroke="#a0a0a6" stroke-width="1.2"/><ellipse cx="226.4" cy="369.1" rx="22.5" ry="19.1" fill="url(#bg10)"/><ellipse cx="224.9" cy="372.3" rx="15" ry="12.6" fill="url(#iris)"/><ellipse cx="224.9" cy="372.9" rx="6" ry="4.9" fill="#0b0b0d" transform="rotate(20 224.9 372.9)"/><ellipse cx="225" cy="350.5" rx="1.3" ry="1.1" fill="#fff" opacity="0.9"/><ellipse cx="343.5" cy="365.6" rx="24.4" ry="22.1" fill="url(#silver)" stroke="#a0a0a6" stroke-width="1.2"/><ellipse cx="343" cy="367.2" rx="21.6" ry="20" fill="url(#bg11)"/><ellipse cx="343.5" cy="370.1" rx="12.8" ry="12" fill="url(#ig11)"/><ellipse cx="343.8" cy="371" rx="7.8" ry="7" fill="#0b0b0d" transform="rotate(20 343.8 371)"/><ellipse cx="342.4" cy="351" rx="1.2" ry="1.5" fill="#fff" opacity="0.9"/></g>
<circle cx="226.5" cy="365" r="124" fill="none" stroke="#111" stroke-width="1.5" stroke-dasharray="12.3 11.672" transform="rotate(-90 226.5 365)"/>
<line x1="236.3" y1="489" x2="236.3" y2="615" stroke="#222" stroke-width="1.5" stroke-dasharray="12 12"/>
<g><g transform="translate(48.00,627.00) rotate(-0.77)" opacity="1"><ellipse cx="2.50" cy="0" rx="3.00" ry="4.20" fill="#f0f0f0" stroke="#9c9ca2" stroke-width="1.38"/><ellipse cx="72.01" cy="0" rx="3.00" ry="4.20" fill="#f0f0f0" stroke="#9c9ca2" stroke-width="1.38"/><path d="M13.92,0 C13.92,-6.20 32.59,-6.20 37.25,-1.80 C41.92,-6.20 60.59,-6.20 60.59,0 C60.59,6.20 41.92,6.20 37.25,1.80 C32.59,6.20 13.92,6.20 13.92,0 Z" fill="#efebe6" stroke="#a09c98" stroke-width="1.61"/><ellipse cx="24.42" cy="-1.00" rx="7.00" ry="2.48" fill="#e2d0b2" opacity="0.8"/><ellipse cx="47.75" cy="0.80" rx="6.42" ry="2.36" fill="#fafafa"/><ellipse cx="34.92" cy="2.60" rx="5.83" ry="0.87" fill="#a8a8b2" opacity="0.7"/><ellipse cx="54.75" cy="-3.00" rx="3.50" ry="0.93" fill="#9c9ca8" opacity="0.7"/><circle cx="10.50" cy="0" r="6.45" fill="#ececec" stroke="#9c9ca2" stroke-width="2.30"/><circle cx="11.30" cy="0.60" r="3.19" fill="#ffffff"/><path d="M5.18,4.18 A7.60,7.60 0 0 0 12.78,6.84" fill="none" stroke="#8a8a92" stroke-width="1.84" opacity="0.8"/><circle cx="64.01" cy="0" r="6.45" fill="#ececec" stroke="#9c9ca2" stroke-width="2.30"/><circle cx="64.81" cy="0.60" r="3.19" fill="#ffffff"/><path d="M58.69,4.18 A7.60,7.60 0 0 0 66.29,6.84" fill="none" stroke="#8a8a92" stroke-width="1.84" opacity="0.8"/></g><g transform="translate(185.00,626.40) rotate(-1.13)" opacity="1"><ellipse cx="2.50" cy="0" rx="3.00" ry="4.20" fill="#f0f0f0" stroke="#9c9ca2" stroke-width="1.38"/><ellipse cx="68.51" cy="0" rx="3.00" ry="4.20" fill="#f0f0f0" stroke="#9c9ca2" stroke-width="1.38"/><path d="M13.92,0 C13.92,-6.20 31.19,-6.20 35.51,-1.80 C39.82,-6.20 57.09,-6.20 57.09,0 C57.09,6.20 39.82,6.20 35.51,1.80 C31.19,6.20 13.92,6.20 13.92,0 Z" fill="#efebe6" stroke="#a09c98" stroke-width="1.61"/><ellipse cx="23.63" cy="-1.00" rx="6.48" ry="2.48" fill="#e2d0b2" opacity="0.8"/><ellipse cx="45.22" cy="0.80" rx="5.94" ry="2.36" fill="#fafafa"/><ellipse cx="33.35" cy="2.60" rx="5.40" ry="0.87" fill="#a8a8b2" opacity="0.7"/><ellipse cx="51.70" cy="-3.00" rx="3.24" ry="0.93" fill="#9c9ca8" opacity="0.7"/><circle cx="10.50" cy="0" r="6.45" fill="#ececec" stroke="#9c9ca2" stroke-width="2.30"/><circle cx="11.30" cy="0.60" r="3.19" fill="#ffffff"/><path d="M5.18,4.18 A7.60,7.60 0 0 0 12.78,6.84" fill="none" stroke="#8a8a92" stroke-width="1.84" opacity="0.8"/><circle cx="60.51" cy="0" r="6.45" fill="#ececec" stroke="#9c9ca2" stroke-width="2.30"/><circle cx="61.31" cy="0.60" r="3.19" fill="#ffffff"/><path d="M55.19,4.18 A7.60,7.60 0 0 0 62.79,6.84" fill="none" stroke="#8a8a92" stroke-width="1.84" opacity="0.8"/></g><g transform="translate(317.00,625.00) rotate(-1.54)" opacity="1"><ellipse cx="2.50" cy="0" rx="3.00" ry="4.20" fill="#f0f0f0" stroke="#9c9ca2" stroke-width="1.38"/><ellipse cx="72.03" cy="0" rx="3.00" ry="4.20" fill="#f0f0f0" stroke="#9c9ca2" stroke-width="1.38"/><path d="M13.92,0 C13.92,-6.20 32.59,-6.20 37.26,-1.80 C41.93,-6.20 60.61,-6.20 60.61,0 C60.61,6.20 41.93,6.20 37.26,1.80 C32.59,6.20 13.92,6.20 13.92,0 Z" fill="#efebe6" stroke="#a09c98" stroke-width="1.61"/><ellipse cx="24.42" cy="-1.00" rx="7.00" ry="2.48" fill="#e2d0b2" opacity="0.8"/><ellipse cx="47.77" cy="0.80" rx="6.42" ry="2.36" fill="#fafafa"/><ellipse cx="34.93" cy="2.60" rx="5.84" ry="0.87" fill="#a8a8b2" opacity="0.7"/><ellipse cx="54.77" cy="-3.00" rx="3.50" ry="0.93" fill="#9c9ca8" opacity="0.7"/><circle cx="10.50" cy="0" r="6.45" fill="#ececec" stroke="#9c9ca2" stroke-width="2.30"/><circle cx="11.30" cy="0.60" r="3.19" fill="#ffffff"/><path d="M5.18,4.18 A7.60,7.60 0 0 0 12.78,6.84" fill="none" stroke="#8a8a92" stroke-width="1.84" opacity="0.8"/><circle cx="64.03" cy="0" r="6.45" fill="#ececec" stroke="#9c9ca2" stroke-width="2.30"/><circle cx="64.83" cy="0.60" r="3.19" fill="#ffffff"/><path d="M58.71,4.18 A7.60,7.60 0 0 0 66.31,6.84" fill="none" stroke="#8a8a92" stroke-width="1.84" opacity="0.8"/></g><g transform="translate(452.50,619.50) rotate(1.46)" opacity="1"><ellipse cx="2.50" cy="0" rx="3.00" ry="4.20" fill="#f0f0f0" stroke="#9c9ca2" stroke-width="1.38"/><ellipse cx="76.03" cy="0" rx="3.00" ry="4.20" fill="#f0f0f0" stroke="#9c9ca2" stroke-width="1.38"/><path d="M13.92,0 C13.92,-6.20 34.19,-6.20 39.26,-1.80 C44.33,-6.20 64.61,-6.20 64.61,0 C64.61,6.20 44.33,6.20 39.26,1.80 C34.19,6.20 13.92,6.20 13.92,0 Z" fill="#efebe6" stroke="#a09c98" stroke-width="1.61"/><ellipse cx="25.32" cy="-1.00" rx="7.60" ry="2.48" fill="#e2d0b2" opacity="0.8"/><ellipse cx="50.67" cy="0.80" rx="6.97" ry="2.36" fill="#fafafa"/><ellipse cx="36.73" cy="2.60" rx="6.34" ry="0.87" fill="#a8a8b2" opacity="0.7"/><ellipse cx="58.27" cy="-3.00" rx="3.80" ry="0.93" fill="#9c9ca8" opacity="0.7"/><circle cx="10.50" cy="0" r="6.45" fill="#ececec" stroke="#9c9ca2" stroke-width="2.30"/><circle cx="11.30" cy="0.60" r="3.19" fill="#ffffff"/><path d="M5.18,4.18 A7.60,7.60 0 0 0 12.78,6.84" fill="none" stroke="#8a8a92" stroke-width="1.84" opacity="0.8"/><circle cx="68.03" cy="0" r="6.45" fill="#ececec" stroke="#9c9ca2" stroke-width="2.30"/><circle cx="68.83" cy="0.60" r="3.19" fill="#ffffff"/><path d="M62.71,4.18 A7.60,7.60 0 0 0 70.31,6.84" fill="none" stroke="#8a8a92" stroke-width="1.84" opacity="0.8"/></g><g transform="translate(592.00,621.00) rotate(-0.36)" opacity="1"><ellipse cx="2.50" cy="0" rx="3.00" ry="4.20" fill="#f0f0f0" stroke="#9c9ca2" stroke-width="1.38"/><ellipse cx="76.50" cy="0" rx="3.00" ry="4.20" fill="#f0f0f0" stroke="#9c9ca2" stroke-width="1.38"/><path d="M13.92,0 C13.92,-6.20 34.38,-6.20 39.50,-1.80 C44.62,-6.20 65.08,-6.20 65.08,0 C65.08,6.20 44.62,6.20 39.50,1.80 C34.38,6.20 13.92,6.20 13.92,0 Z" fill="#efebe6" stroke="#a09c98" stroke-width="1.61"/><ellipse cx="25.43" cy="-1.00" rx="7.67" ry="2.48" fill="#e2d0b2" opacity="0.8"/><ellipse cx="51.01" cy="0.80" rx="7.03" ry="2.36" fill="#fafafa"/><ellipse cx="36.94" cy="2.60" rx="6.40" ry="0.87" fill="#a8a8b2" opacity="0.7"/><ellipse cx="58.69" cy="-3.00" rx="3.84" ry="0.93" fill="#9c9ca8" opacity="0.7"/><circle cx="10.50" cy="0" r="6.45" fill="#ececec" stroke="#9c9ca2" stroke-width="2.30"/><circle cx="11.30" cy="0.60" r="3.19" fill="#ffffff"/><path d="M5.18,4.18 A7.60,7.60 0 0 0 12.78,6.84" fill="none" stroke="#8a8a92" stroke-width="1.84" opacity="0.8"/><circle cx="68.50" cy="0" r="6.45" fill="#ececec" stroke="#9c9ca2" stroke-width="2.30"/><circle cx="69.30" cy="0.60" r="3.19" fill="#ffffff"/><path d="M63.18,4.18 A7.60,7.60 0 0 0 70.78,6.84" fill="none" stroke="#8a8a92" stroke-width="1.84" opacity="0.8"/></g><g transform="translate(732.50,620.00) rotate(-0.72)" opacity="1"><ellipse cx="2.50" cy="0" rx="3.00" ry="4.20" fill="#f0f0f0" stroke="#9c9ca2" stroke-width="1.38"/><ellipse cx="77.01" cy="0" rx="3.00" ry="4.20" fill="#f0f0f0" stroke="#9c9ca2" stroke-width="1.38"/><path d="M13.92,0 C13.92,-6.20 34.59,-6.20 39.75,-1.80 C44.92,-6.20 65.59,-6.20 65.59,0 C65.59,6.20 44.92,6.20 39.75,1.80 C34.59,6.20 13.92,6.20 13.92,0 Z" fill="#efebe6" stroke="#a09c98" stroke-width="1.61"/><ellipse cx="25.54" cy="-1.00" rx="7.75" ry="2.48" fill="#e2d0b2" opacity="0.8"/><ellipse cx="51.38" cy="0.80" rx="7.10" ry="2.36" fill="#fafafa"/><ellipse cx="37.17" cy="2.60" rx="6.46" ry="0.87" fill="#a8a8b2" opacity="0.7"/><ellipse cx="59.13" cy="-3.00" rx="3.87" ry="0.93" fill="#9c9ca8" opacity="0.7"/><circle cx="10.50" cy="0" r="6.45" fill="#ececec" stroke="#9c9ca2" stroke-width="2.30"/><circle cx="11.30" cy="0.60" r="3.19" fill="#ffffff"/><path d="M5.18,4.18 A7.60,7.60 0 0 0 12.78,6.84" fill="none" stroke="#8a8a92" stroke-width="1.84" opacity="0.8"/><circle cx="69.01" cy="0" r="6.45" fill="#ececec" stroke="#9c9ca2" stroke-width="2.30"/><circle cx="69.81" cy="0.60" r="3.19" fill="#ffffff"/><path d="M63.69,4.18 A7.60,7.60 0 0 0 71.29,6.84" fill="none" stroke="#8a8a92" stroke-width="1.84" opacity="0.8"/></g><ellipse cx="25" cy="627.5" rx="24.2" ry="27.2" fill="url(#silver)" stroke="#a0a0a6" stroke-width="1.2"/><ellipse cx="23.7" cy="628.9" rx="22.3" ry="23.4" fill="url(#bg12)"/><ellipse cx="18.75" cy="632.2" rx="15" ry="15" fill="url(#ig12)"/><ellipse cx="18.3" cy="632.4" rx="4.8" ry="4.8" fill="#0b0b0d" transform="rotate(20 18.3 632.4)"/><ellipse cx="22" cy="609.5" rx="1.4" ry="1.2" fill="#fff" opacity="0.9"/><ellipse cx="152.7" cy="626.8" rx="29.75" ry="27.9" fill="url(#silver)" stroke="#a0a0a6" stroke-width="1.2"/><ellipse cx="153.9" cy="628.4" rx="26.7" ry="24.4" fill="url(#bg13)"/><ellipse cx="151.3" cy="631.5" rx="16.1" ry="14.8" fill="url(#ig13)"/><ellipse cx="151.3" cy="632.4" rx="7.7" ry="7.3" fill="#0b0b0d"/><ellipse cx="155" cy="608.5" rx="1.5" ry="1.3" fill="#fff" opacity="0.9"/><ellipse cx="286.5" cy="626.6" rx="29.5" ry="27.2" fill="url(#silver)" stroke="#a0a0a6" stroke-width="1.2"/><ellipse cx="287.5" cy="628.7" rx="27.2" ry="23.2" fill="url(#bg14)"/><ellipse cx="285.3" cy="633.5" rx="18" ry="14.5" fill="url(#ig14)"/><ellipse cx="284.7" cy="635.4" rx="8.8" ry="6.4" fill="#0b0b0d" transform="rotate(20 284.7 635.4)"/><ellipse cx="288" cy="607.5" rx="1.4" ry="1.2" fill="#fff" opacity="0.9"/><ellipse cx="423.5" cy="624.5" rx="29" ry="26.5" fill="url(#silver)" stroke="#a0a0a6" stroke-width="1.2"/><ellipse cx="423" cy="626" rx="26.7" ry="22" fill="url(#bg15)"/><ellipse cx="421.8" cy="628.7" rx="18" ry="15.7" fill="url(#iris)"/><ellipse cx="421" cy="630.8" rx="7.6" ry="5.8" fill="#0b0b0d" transform="rotate(20 421 630.8)"/><ellipse cx="421.5" cy="604.5" rx="1.4" ry="1.2" fill="#fff" opacity="0.9"/><ellipse cx="562" cy="622.75" rx="29.5" ry="28.25" fill="url(#silver)" stroke="#a0a0a6" stroke-width="1.2"/><ellipse cx="562" cy="624" rx="27" ry="24.5" fill="url(#bg16)"/><ellipse cx="563" cy="627.5" rx="16" ry="15" fill="url(#ig16)"/><ellipse cx="563.5" cy="628.5" rx="10.2" ry="8.0" fill="#0b0b0d" transform="rotate(25 563.5 628.5)"/><ellipse cx="561" cy="604.5" rx="1.5" ry="1.5" fill="#fff" opacity="0.9"/><ellipse cx="701.6" cy="621.5" rx="31" ry="26.25" fill="url(#silver)" stroke="#a0a0a6" stroke-width="1.2"/><ellipse cx="702" cy="623" rx="28.1" ry="24" fill="url(#bg17)"/><ellipse cx="699" cy="626.7" rx="18.5" ry="16.4" fill="url(#ig17)"/><ellipse cx="698.75" cy="628.2" rx="8.3" ry="6.2" fill="#0b0b0d" transform="rotate(28 698.75 628.2)"/><ellipse cx="697.5" cy="602.5" rx="1.5" ry="1.4" fill="#fff" opacity="0.9"/></g>
<text x="380.2" y="586.5" font-family="'Liberation Sans', sans-serif" font-size="25.3" fill="#000" textLength="12.9" lengthAdjust="spacingAndGlyphs">8</text><text x="398.5" y="586.5" font-family="'Liberation Sans', sans-serif" font-size="25.3" fill="#000" textLength="43.8" lengthAdjust="spacingAndGlyphs">mm</text>
<text x="595.8" y="592.4" font-family="'Liberation Sans', sans-serif" font-size="25.3" fill="#000" textLength="13.2" lengthAdjust="spacingAndGlyphs">8</text><text x="614.7" y="592.4" font-family="'Liberation Sans', sans-serif" font-size="25.3" fill="#000" textLength="44" lengthAdjust="spacingAndGlyphs">mm</text>
<path d="M421.8 596.8 H410 V651.9 H421.8" fill="none" stroke="#111" stroke-width="1.6"/>
<path d="M596 619.5 V604.2 H666 V619.5" fill="none" stroke="#111" stroke-width="1.6"/>
</svg></body></html>
